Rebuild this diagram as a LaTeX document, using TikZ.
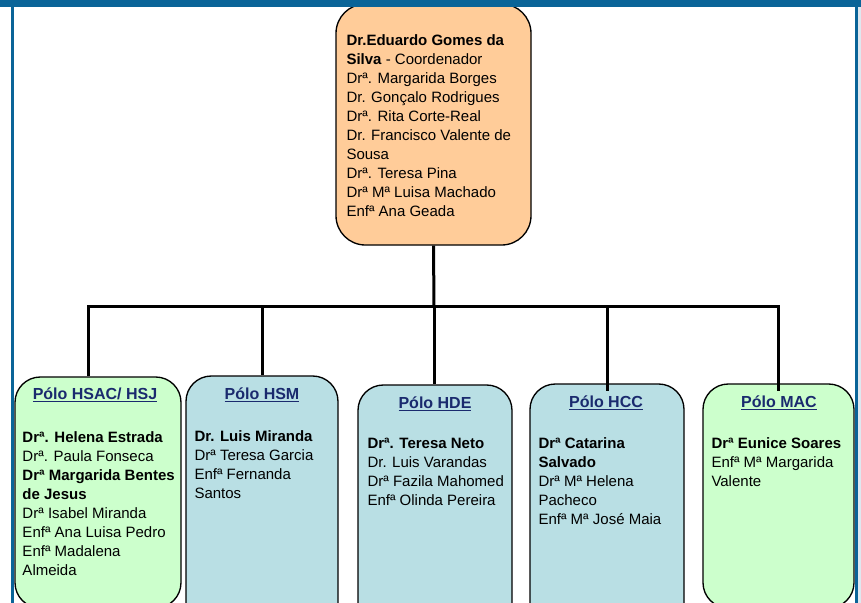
\documentclass[tikz,border=0pt]{standalone}
\usepackage{fontspec}
\setmainfont{Liberation Sans}
\usetikzlibrary{positioning,fit}

\definecolor{pessego}{RGB}{255,204,153}
\definecolor{verdepolo}{RGB}{204,255,204}
\definecolor{azulpolo}{RGB}{185,223,228}
\definecolor{azultitulo}{RGB}{26,42,110}
\definecolor{moldura}{RGB}{10,100,152}
\definecolor{margem}{RGB}{222,232,240}

\tikzset{every picture/.style={line width=0.75pt}}
\tikzset{
  caixa/.style={draw=black, line width=1pt, inner sep=0pt, rounded corners=19pt},
  membros/.style={anchor=north west, inner sep=0pt, align=left, font=\fontsize{11.25}{14.25}\selectfont},
  titulo/.style={inner sep=0pt, text=azultitulo, font=\bfseries\fontsize{12}{14.25}\selectfont},
  ligacao/.style={draw=black, line width=2.25pt}
}

\begin{document}
\begin{tikzpicture}[x=0.75pt,y=0.75pt,yscale=-1,xscale=1]
	\useasboundingbox (0,0) rectangle (861,603);
	\clip (0,0) rectangle (861,603);

	%Shape: Rounded Rectangle [coordenacao]
	\node [caixa, fill=pessego, rounded corners=22pt, fit={(336,4) (531,245)}] (coord) {};
	%Shape: Rounded Rectangle [polos]
	\node [caixa, fill=verdepolo, fit={(15,377) (181,608)}] (hsac) {};
	\node [caixa, fill=azulpolo, fit={(186,376) (338,640)}] (hsm) {};
	\node [caixa, fill=azulpolo, fit={(358,385) (512,640)}] (hde) {};
	\node [caixa, fill=azulpolo, fit={(530,384) (684,640)}] (hcc) {};
	\node [caixa, fill=verdepolo, fit={(703,384) (854,608)}] (mac) {};

	%Shape: Frame
	\fill [moldura] (0,0) rectangle (861,7) ;
	\fill [moldura] (11,7) rectangle (14,603) ;
	\fill [moldura] (855,7) rectangle (858,603) ;
	\fill [margem] (858,7) rectangle (861,603) ;

	%Straight Lines [ligacoes]
	\coordinate (barra) at (434,306);
	\draw [ligacao] (coord.south) -- (barra) ;
	\draw [ligacao] (barra) -| ([xshift=-7.5pt]hsac.north) ;
	\draw [ligacao] (barra) -| (hsm.north) ;
	\draw [ligacao] (barra) -- (barra |- hde.north) ;
	\draw [ligacao] (barra) -| ([yshift=6pt]hcc.north) ;
	\draw [ligacao] (barra) -| ([yshift=6pt]mac.north) ;

	% Text Node
	\node [membros] (coord-txt) at (346,34) {\textbf{Dr.Eduardo Gomes da}\\ \textbf{Silva} - Coordenador\\ Drª. Margarida Borges\\ Dr. Gonçalo Rodrigues\\ Drª. Rita Corte-Real\\ Dr. Francisco Valente de\\ Sousa\\ Drª. Teresa Pina\\ Drª Mª Luisa Machado\\ Enfª Ana Geada};

	% Text Node
	\node [titulo] (hsac-t) at (95,395) {\underline{Pólo HSAC/ HSJ}};
	\node [membros] (hsac-txt) at (22,431) {\textbf{Drª. Helena Estrada}\\ Drª. Paula Fonseca\\ \textbf{Drª Margarida Bentes}\\ \textbf{de Jesus}\\ Drª Isabel Miranda\\ Enfª Ana Luisa Pedro\\ Enfª Madalena\\ Almeida};
	% Text Node
	\node [titulo] (hsm-t) at (262,395) {\underline{Pólo HSM}};
	\node [membros] (hsm-txt) at (194,430) {\textbf{Dr. Luis Miranda}\\ Drª Teresa Garcia\\ Enfª Fernanda\\ Santos};
	% Text Node
	\node [titulo] (hde-t) at (435,404) {\underline{Pólo HDE}};
	\node [membros] (hde-txt) at (367,438) {\textbf{Drª. Teresa Neto}\\ Dr. Luis Varandas\\ Drª Fazila Mahomed\\ Enfª Olinda Pereira};
	% Text Node
	\node [titulo] (hcc-t) at (606,403) {\underline{Pólo HCC}};
	\node [membros] (hcc-txt) at (538,437) {\textbf{Drª Catarina}\\ \textbf{Salvado}\\ Drª Mª Helena\\ Pacheco\\ Enfª Mª José Maia};
	% Text Node
	\node [titulo] (mac-t) at (779,403) {\underline{Pólo MAC}};
	\node [membros] (mac-txt) at (711,437) {\textbf{Drª Eunice Soares}\\ Enfª Mª Margarida\\ Valente};

\end{tikzpicture}
\end{document}
